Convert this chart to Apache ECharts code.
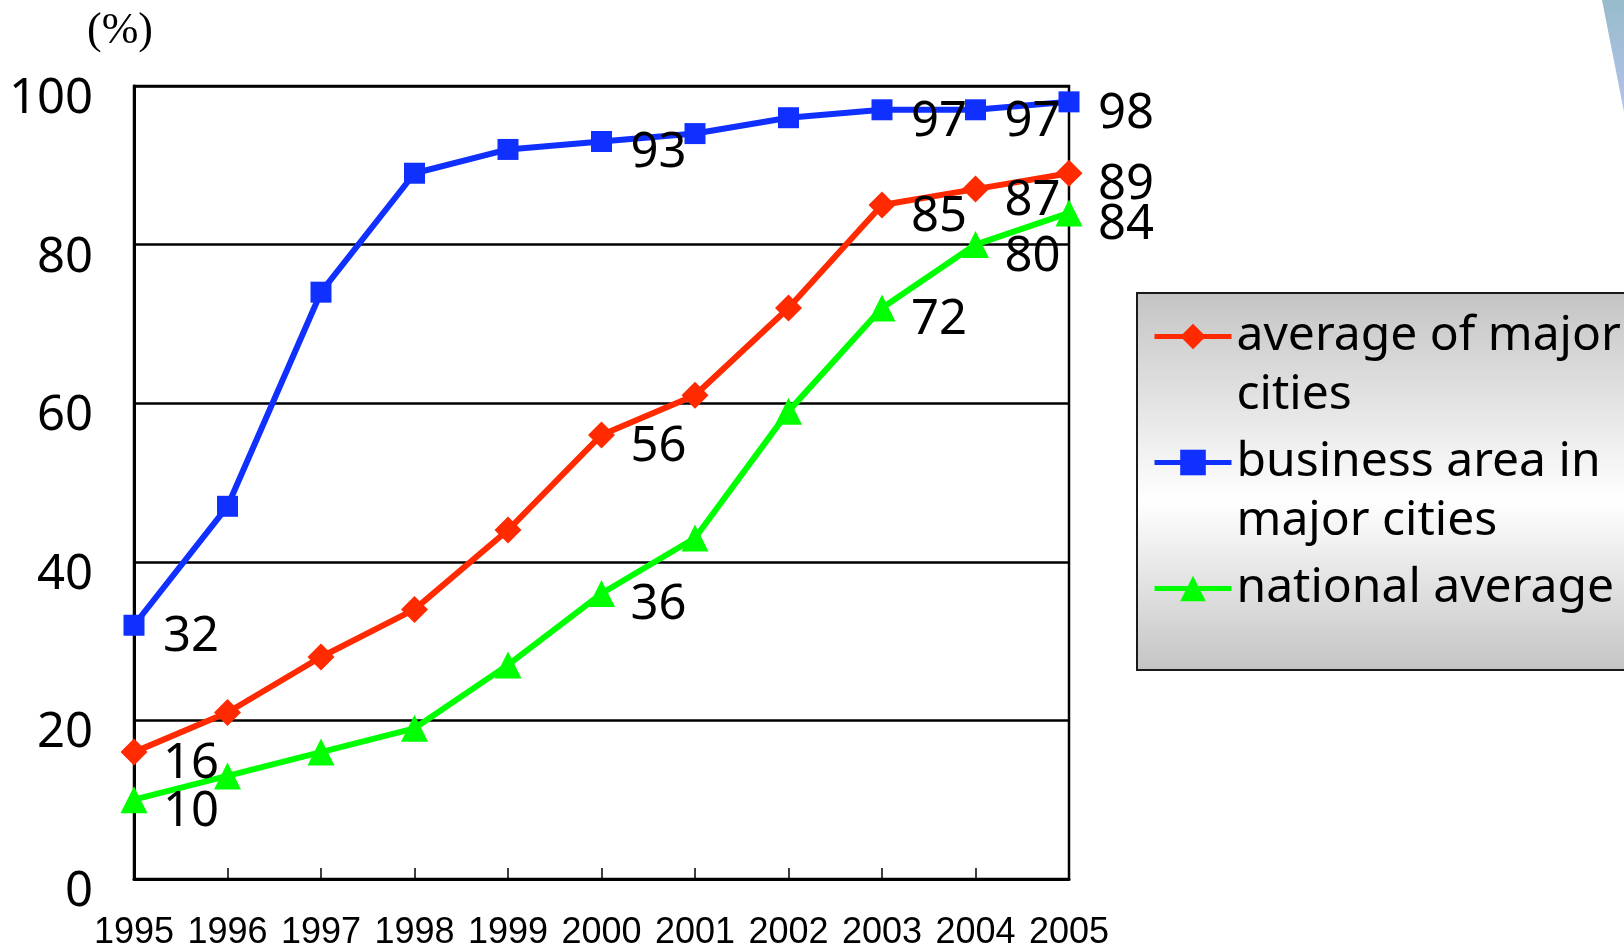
<!DOCTYPE html>
<html>
<head>
<meta charset="utf-8">
<script src="https://cdn.jsdelivr.net/npm/echarts@6/dist/echarts.min.js"></script>
<style>
html,body{margin:0;padding:0;background:#fff;}
#chart{width:1624px;height:949px;}
</style>
</head>
<body>
<div id="chart"></div>
<script>
var years = ['1995','1996','1997','1998','1999','2000','2001','2002','2003','2004','2005'];
var majorCities = [16, 21, 28, 34, 44, 56, 61, 72, 85, 87, 89];
var businessArea = [32, 47, 74, 89, 92, 93, 94, 96, 97, 97, 98];
var nationalAvg = [10, 13, 16, 19, 27, 36, 43, 59, 72, 80, 84];
var labeledIdx = [0, 5, 8, 9, 10];
var seriesNames = ['average of major cities', 'business area in major cities', 'national average'];
var legendText = {
  'average of major cities': ' \naverage of major\ncities',
  'business area in major cities': ' \nbusiness area in\nmajor cities',
  'national average': ' \nnational average\n '
};
var yTicks = [0, 20, 40, 60, 80, 100];

function buildData(arr) {
  return arr.map(function (v, i) {
    return { value: v, label: { show: labeledIdx.indexOf(i) >= 0 } };
  });
}

var labelCfg = {
  show: false,
  position: 'inside',
  offset: [57, 12],
  color: '#000',
  fontFamily: 'Noto Sans',
  fontSize: 49,
  formatter: '{c}'
};

function makeSeries(name, arr, color, symbol, size) {
  return {
    name: name,
    type: 'line',
    data: buildData(arr),
    symbol: symbol,
    symbolSize: size,
    showAllSymbol: true,
    lineStyle: { color: color, width: 6 },
    itemStyle: { color: color },
    label: labelCfg,
    emphasis: { disabled: true },
    animation: false
  };
}

var chart = echarts.init(document.getElementById('chart'), null, { renderer: 'canvas' });
chart.setOption({
  backgroundColor: '#ffffff',
  animation: false,
  grid: {
    left: 134, right: 555, top: 86, bottom: 70,
    show: true, borderColor: '#000', borderWidth: 2.5,
    backgroundColor: 'transparent',
    outerBoundsMode: 'none'
  },
  graphic: [
    {
      type: 'polygon',
      z: 0,
      shape: { points: [[1602, 0], [1624, 0], [1624, 112]] },
      style: {
        fill: new echarts.graphic.LinearGradient(0, 0, 0, 1, [
          { offset: 0, color: '#97bccb' },
          { offset: 1, color: '#b4c2ea' }
        ])
      }
    },
    {
      type: 'rect',
      z: 0,
      shape: { x: 1137, y: 293, width: 520, height: 377 },
      style: {
        fill: new echarts.graphic.LinearGradient(0, 0, 0, 1, [
          { offset: 0, color: '#c4c4c4' },
          { offset: 0.55, color: '#ffffff' },
          { offset: 1, color: '#c4c4c4' }
        ]),
        stroke: '#1a1a1a',
        lineWidth: 2
      }
    }
  ],
  legend: {
    z: 10,
    orient: 'vertical',
    left: 1152,
    top: 248,
    padding: 0,
    itemGap: -51,
    itemWidth: 77,
    itemHeight: 32,
    data: seriesNames,
    formatter: function (n) { return legendText[n]; },
    lineStyle: { width: 5 },
    textStyle: {
      color: '#000',
      fontFamily: 'Noto Sans',
      fontSize: 48,
      lineHeight: 59
    },
    selectedMode: false
  },
  xAxis: {
    type: 'category',
    data: years,
    boundaryGap: false,
    axisLine: { show: true, lineStyle: { color: '#000', width: 3 } },
    axisTick: { show: true, inside: true, length: 11, lineStyle: { color: '#000', width: 1.5 } },
    axisLabel: {
      color: '#000',
      fontFamily: 'Liberation Sans',
      fontSize: 36,
      margin: 36,
      interval: 0
    },
    splitLine: { show: false }
  },
  yAxis: {
    type: 'value',
    min: yTicks[0],
    max: yTicks[yTicks.length - 1],
    interval: 20,
    name: '(%)',
    nameLocation: 'end',
    nameGap: 33,
    nameTextStyle: {
      color: '#000',
      fontFamily: 'Liberation Serif',
      fontSize: 44,
      padding: [0, 28, 0, 0]
    },
    axisLine: { show: true, lineStyle: { color: '#000', width: 3 } },
    axisTick: { show: false },
    axisLabel: {
      color: '#000',
      fontFamily: 'Noto Sans',
      fontSize: 49,
      margin: 41,
      verticalAlign: 'top',
      lineHeight: 26
    },
    splitLine: { show: true, lineStyle: { color: '#000', width: 2.5 } }
  },
  series: [
    makeSeries(seriesNames[0], majorCities, '#ff2a00', 'diamond', 27),
    makeSeries(seriesNames[1], businessArea, '#1030ff', 'rect', 21),
    makeSeries(seriesNames[2], nationalAvg, '#00ff00', 'triangle', 27)
  ]
});
</script>
</body>
</html>
